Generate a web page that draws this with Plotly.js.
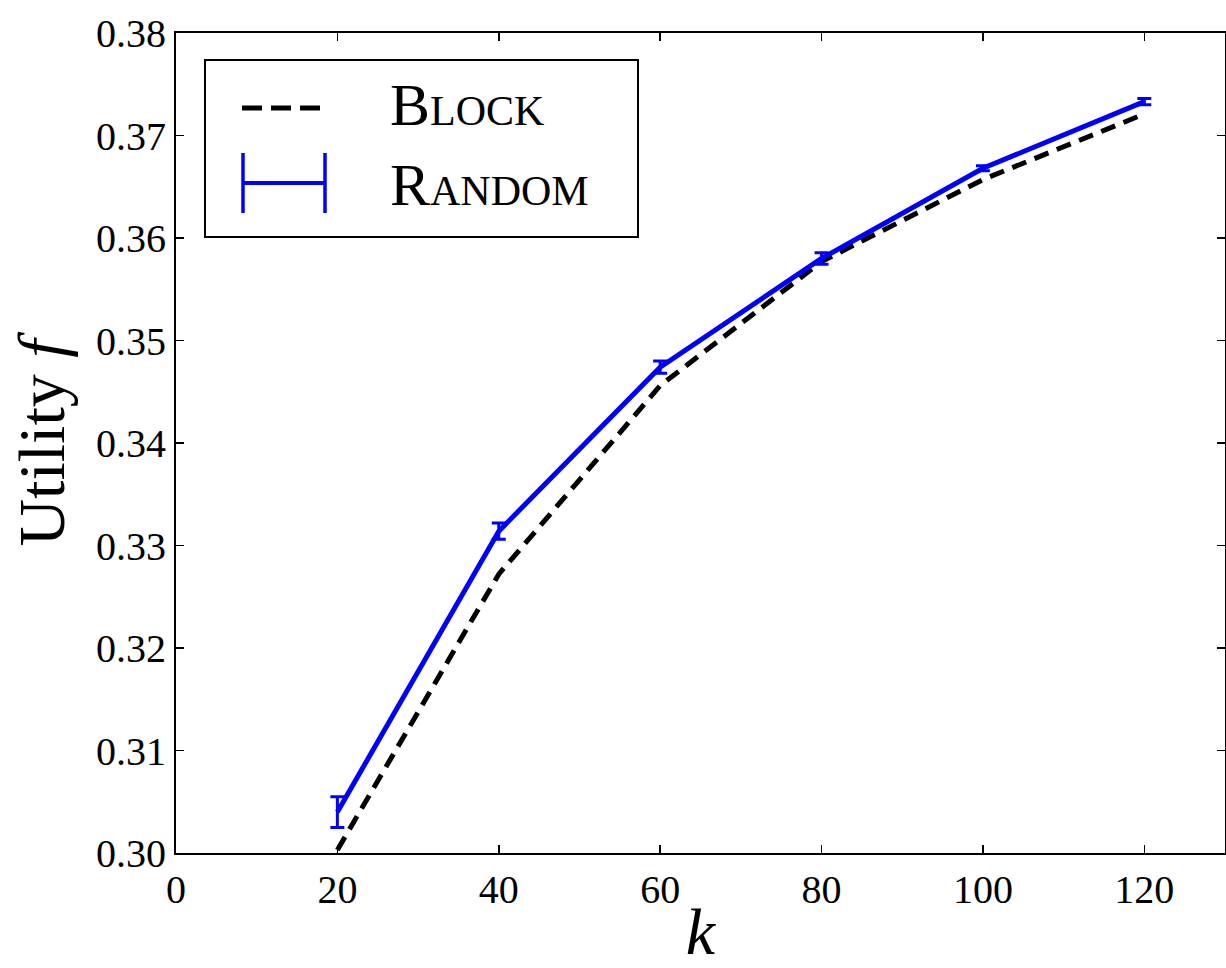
<!DOCTYPE html>
<html>
<head>
<meta charset="utf-8">
<script src="https://cdn.plot.ly/plotly-3.0.1.min.js"></script>
<style>html,body{margin:0;padding:0;background:#fff;}#chart{width:1226px;height:968px;}</style>
</head>
<body>
<div id="chart"></div>
<script>
var kValues = [20, 40, 60, 80, 100, 120];
var blockUtility = [0.3003, 0.3272, 0.3456, 0.3577, 0.3657, 0.3721];
var randomUtility = [0.3040, 0.3314, 0.3474, 0.3580, 0.3668, 0.3733];
var randomError = [0.0015, 0.0008, 0.0006, 0.00055, 0.00025, 0.0003];
var seriesNames = ["Block", "Random"];
var xTicks = [0, 20, 40, 60, 80, 100, 120];
var yTicks = [0.30, 0.31, 0.32, 0.33, 0.34, 0.35, 0.36, 0.37, 0.38];

var FONT = "Liberation Serif, DejaVu Serif, serif";
var BLUE = "#0000ff";

var traces = [
  {
    x: kValues, y: blockUtility, name: seriesNames[0], type: "scatter", mode: "lines",
    line: {color: "#000000", width: 5, dash: "15px,9px"}, showlegend: false
  },
  {
    x: kValues, y: randomUtility, name: seriesNames[1], type: "scatter", mode: "lines",
    line: {color: BLUE, width: 5}, showlegend: false,
    error_y: {type: "data", array: randomError, visible: true, color: BLUE, thickness: 3, width: 7}
  }
];

var axisCommon = {
  showline: true, linecolor: "#000", linewidth: 2, mirror: "ticks",
  ticks: "inside", ticklen: 8, tickwidth: 1.5, tickcolor: "#000",
  showgrid: false, zeroline: false,
  tickfont: {family: FONT, size: 40, color: "#000"}
};

// legend drawn in paper coordinates (plot area: 1049 x 820 px)
function px(xPix) { return (xPix - 176) / 1049; }
function py(yPix) { return 1 - (yPix - 33) / 820; }

var legendShapes = [
  {type: "rect", xref: "paper", yref: "paper", x0: px(205), x1: px(638), y0: py(237), y1: py(60),
   line: {color: "#000", width: 2}, fillcolor: "#fff", layer: "above"},
  {type: "line", xref: "paper", yref: "paper", x0: px(242), x1: px(320), y0: py(108), y1: py(108),
   line: {color: "#000", width: 5, dash: "20px,9px"}, layer: "above"},
  {type: "line", xref: "paper", yref: "paper", x0: px(243), x1: px(325), y0: py(183), y1: py(183),
   line: {color: BLUE, width: 4}, layer: "above"},
  {type: "line", xref: "paper", yref: "paper", x0: px(243), x1: px(243), y0: py(213), y1: py(153),
   line: {color: BLUE, width: 3.5}, layer: "above"},
  {type: "line", xref: "paper", yref: "paper", x0: px(325), x1: px(325), y0: py(213), y1: py(153),
   line: {color: BLUE, width: 3.5}, layer: "above"}
];

var legendLabels = [
  {text: seriesNames[0], xref: "paper", yref: "paper", x: px(388), y: py(105), xanchor: "left", yanchor: "middle",
   showarrow: false, font: {family: FONT, size: 60, color: "#000", variant: "small-caps"}},
  {text: seriesNames[1], xref: "paper", yref: "paper", x: px(388), y: py(185), xanchor: "left", yanchor: "middle",
   showarrow: false, font: {family: FONT, size: 60, color: "#000", variant: "small-caps"}}
];

var layout = {
  width: 1226, height: 968,
  margin: {l: 176, r: 1, t: 33, b: 115},
  paper_bgcolor: "#fff", plot_bgcolor: "#fff",
  showlegend: false,
  xaxis: Object.assign({}, axisCommon, {
    range: [0, 130], tickvals: xTicks, ticktext: xTicks.map(String),
    title: {text: "<i>k</i>", font: {family: FONT, size: 66, color: "#000"}, standoff: 8}
  }),
  yaxis: Object.assign({}, axisCommon, {
    range: [0.30, 0.38], tickvals: yTicks, ticktext: yTicks.map(function(v){return v.toFixed(2);}),
    title: {text: "Utility <i>f</i>", font: {family: FONT, size: 66, color: "#000"}, standoff: 10}
  }),
  shapes: legendShapes,
  annotations: legendLabels
};

Plotly.newPlot("chart", traces, layout, {displayModeBar: false, staticPlot: true});
</script>
</body>
</html>
